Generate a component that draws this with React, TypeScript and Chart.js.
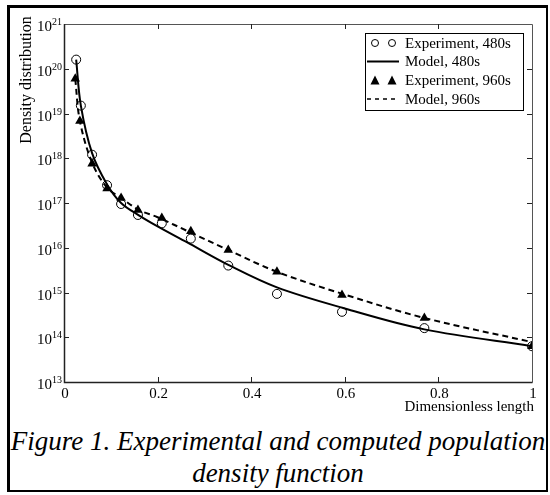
import React, { useEffect, useRef } from "react";
import { Chart, registerables } from "chart.js";

Chart.register(...registerables);

const xExp480 = [0.026, 0.036, 0.06, 0.092, 0.122, 0.158, 0.209, 0.271, 0.351, 0.455, 0.594, 0.77, 1.0];
const yExp480 = [1.6e20, 1.5e19, 1.2e18, 2.5e17, 9.5e16, 5.4e16, 3.5e16, 1.6e16, 4e15, 9.3e14, 3.7e14, 1.6e14, 6.3e13];

const xModel480 = [0.026, 0.036, 0.06, 0.092, 0.122, 0.16, 0.2, 0.27, 0.35, 0.455, 0.6, 0.77, 1.0];
const yModel480 = [1.6e20, 1.5e19, 1.3e18, 2.6e17, 1.0e17, 5.3e16, 3.0e16, 1.2e16, 4.2e15, 1.3e15, 4.4e14, 1.5e14, 6.3e13];

const xExp960 = [0.024, 0.034, 0.06, 0.092, 0.122, 0.158, 0.209, 0.271, 0.351, 0.455, 0.594, 0.77, 1.0];
const yExp960 = [6e19, 6.8e18, 7.5e17, 2.1e17, 1.3e17, 7e16, 4.6e16, 2.35e16, 8.9e15, 2.9e15, 8.8e14, 2.7e14, 6.3e13];

const xModel960 = [0.024, 0.034, 0.06, 0.092, 0.122, 0.16, 0.2, 0.27, 0.35, 0.455, 0.6, 0.77, 1.0];
const yModel960 = [6e19, 6.8e18, 8e17, 2.2e17, 1.3e17, 7e16, 4.8e16, 2.2e16, 9e15, 2.9e15, 9e14, 2.7e14, 7.8e13];

const xTicks = [0, 0.2, 0.4, 0.6, 0.8, 1];
const xTickLabels = ["0", "0.2", "0.4", "0.6", "0.8", "1"];
const yExponents = [13, 14, 15, 16, 17, 18, 19, 20, 21];

const seriesLabels = ["Experiment, 480s", "Model, 480s", "Experiment, 960s", "Model, 960s"];
const xTitle = "Dimensionless length";
const yTitle = "Density distribution";

const FONT = '"Liberation Serif", "Times New Roman", serif';

const pts = (xs: number[], ys: number[]) => xs.map((x, i) => ({ x, y: ys[i] }));

const framePlugin = {
  id: "frame",
  afterDraw(chart: any) {
    const ctx = chart.ctx as CanvasRenderingContext2D;
    const xs = chart.scales.x;
    const ys = chart.scales.y;
    const a = chart.chartArea;
    ctx.save();
    // box
    ctx.lineWidth = 1;
    ctx.strokeStyle = "#555";
    ctx.beginPath();
    ctx.moveTo(a.left + 0.5, a.top + 0.5);
    ctx.lineTo(a.right + 0.5, a.top + 0.5);
    ctx.lineTo(a.right + 0.5, a.bottom + 0.5);
    ctx.stroke();
    ctx.strokeStyle = "#222";
    ctx.lineWidth = 1.5;
    ctx.beginPath();
    ctx.moveTo(a.left + 0.5, a.top);
    ctx.lineTo(a.left + 0.5, a.bottom + 0.5);
    ctx.lineTo(a.right + 0.5, a.bottom + 0.5);
    ctx.stroke();
    // ticks
    ctx.lineWidth = 1;
    ctx.strokeStyle = "#222";
    ctx.beginPath();
    xTicks.forEach((v) => {
      if (v === 0 || v === 1) return;
      const px = Math.round(xs.getPixelForValue(v)) + 0.5;
      ctx.moveTo(px, a.bottom);
      ctx.lineTo(px, a.bottom - 5);
      ctx.moveTo(px, a.top);
      ctx.lineTo(px, a.top + 5);
    });
    yExponents.forEach((e) => {
      if (e === 13 || e === 21) return;
      const py = Math.round(ys.getPixelForValue(Math.pow(10, e))) + 0.5;
      ctx.moveTo(a.left, py);
      ctx.lineTo(a.left + 5, py);
      ctx.moveTo(a.right, py);
      ctx.lineTo(a.right - 5, py);
    });
    ctx.stroke();

    ctx.fillStyle = "#000";
    // x labels
    ctx.font = `15px ${FONT}`;
    ctx.textAlign = "center";
    ctx.textBaseline = "middle";
    xTicks.forEach((v, i) => {
      const px = xs.getPixelForValue(v);
      ctx.fillText(xTickLabels[i], px + 1, a.bottom + 12);
    });
    // x title
    ctx.textAlign = "right";
    ctx.textBaseline = "alphabetic";
    ctx.fillText(xTitle, a.right + 2, a.bottom + 29);

    // y labels
    yExponents.forEach((e) => {
      const py = ys.getPixelForValue(Math.pow(10, e));
      ctx.font = `10px ${FONT}`;
      const exp = String(e);
      const we = ctx.measureText(exp).width;
      ctx.textAlign = "right";
      ctx.fillText(exp, 62, py + 1);
      ctx.font = `15px ${FONT}`;
      ctx.fillText("10", 62 - we, py + 7);
    });

    // y title
    ctx.save();
    ctx.translate(27, 80);
    ctx.rotate(-Math.PI / 2);
    ctx.font = `16px ${FONT}`;
    ctx.textAlign = "center";
    ctx.textBaseline = "middle";
    ctx.fillText(yTitle, 0, 0);
    ctx.restore();

    // legend
    const lx = 365.5, ly = 33.5, lw = 158, lh = 77;
    ctx.fillStyle = "#fff";
    ctx.fillRect(lx, ly, lw, lh);
    ctx.strokeStyle = "#000";
    ctx.lineWidth = 1;
    ctx.strokeRect(lx, ly, lw, lh);
    const rows = [43, 61.5, 80.5, 99];
    ctx.font = `15px ${FONT}`;
    ctx.textAlign = "left";
    ctx.textBaseline = "middle";
    ctx.fillStyle = "#000";
    rows.forEach((ry, i) => {
      if (i === 0) {
        [375, 392].forEach((cx) => {
          ctx.beginPath();
          ctx.arc(cx, ry, 3.5, 0, Math.PI * 2);
          ctx.lineWidth = 1;
          ctx.stroke();
        });
      } else if (i === 2) {
        [375, 392].forEach((cx) => {
          ctx.beginPath();
          ctx.moveTo(cx, ry - 5);
          ctx.lineTo(cx + 4.5, ry + 4);
          ctx.lineTo(cx - 4.5, ry + 4);
          ctx.closePath();
          ctx.fill();
        });
      } else {
        ctx.beginPath();
        ctx.lineWidth = i === 1 ? 2 : 1.5;
        ctx.setLineDash(i === 3 ? [4, 4] : []);
        ctx.moveTo(367, ry);
        ctx.lineTo(399, ry);
        ctx.stroke();
        ctx.setLineDash([]);
      }
      ctx.fillText(seriesLabels[i], 405, ry + 1);
    });
    ctx.restore();
  },
};

export default function App() {
  const ref = useRef<HTMLCanvasElement>(null);
  useEffect(() => {
    if (!ref.current) return;
    const chart = new Chart(ref.current, {
      type: "line",
      data: {
        datasets: [
          {
            label: seriesLabels[0],
            data: pts(xExp480, yExp480),
            showLine: false,
            pointStyle: "circle",
            pointRadius: 4.5,
            pointBorderWidth: 1,
            borderColor: "#000",
            backgroundColor: "rgba(0,0,0,0)",
            order: 0,
          },
          {
            label: seriesLabels[1],
            data: pts(xModel480, yModel480),
            showLine: true,
            borderColor: "#000",
            borderWidth: 2,
            pointRadius: 0,
            tension: 0.35,
            order: 1,
          },
          {
            label: seriesLabels[2],
            data: pts(xExp960, yExp960),
            showLine: false,
            pointStyle: "triangle",
            pointRadius: 5.5,
            pointBorderWidth: 0,
            borderColor: "#000",
            backgroundColor: "#000",
            order: 0,
          },
          {
            label: seriesLabels[3],
            data: pts(xModel960, yModel960),
            showLine: true,
            borderColor: "#000",
            borderWidth: 2,
            borderDash: [6, 4],
            pointRadius: 0,
            tension: 0.35,
            order: 1,
          },
        ],
      },
      options: {
        responsive: false,
        animation: false,
        layout: { padding: { left: 64, top: 24, right: 18, bottom: 38 } },
        plugins: { legend: { display: false }, tooltip: { enabled: false } },
        scales: {
          x: { type: "linear", min: 0, max: 1, display: false },
          y: { type: "logarithmic", min: 1e13, max: 1e21, display: false },
        },
      },
      plugins: [framePlugin],
    } as any);
    return () => chart.destroy();
  }, []);

  return (
    <div style={{ position: "absolute", left: 0, top: 0, width: 550, height: 495, background: "#fff" }}>
      <div
        style={{
          position: "absolute",
          left: 7,
          top: 5,
          width: 541,
          height: 487,
          boxSizing: "border-box",
          borderTop: "3px solid #000",
          borderLeft: "3px solid #000",
          borderRight: "2px solid #000",
          borderBottom: "2px solid #000",
        }}
      />
      <canvas ref={ref} width={550} height={420} style={{ position: "absolute", left: 0, top: 0 }} />
      <div
        style={{
          position: "absolute",
          left: 8,
          top: 425,
          width: 540,
          textAlign: "center",
          fontFamily: FONT,
          fontStyle: "italic",
          fontSize: 27,
          lineHeight: "32px",
          whiteSpace: "nowrap",
          color: "#000",
        }}
      >
        Figure 1. Experimental and computed population
        <br />
        density function
      </div>
    </div>
  );
}
